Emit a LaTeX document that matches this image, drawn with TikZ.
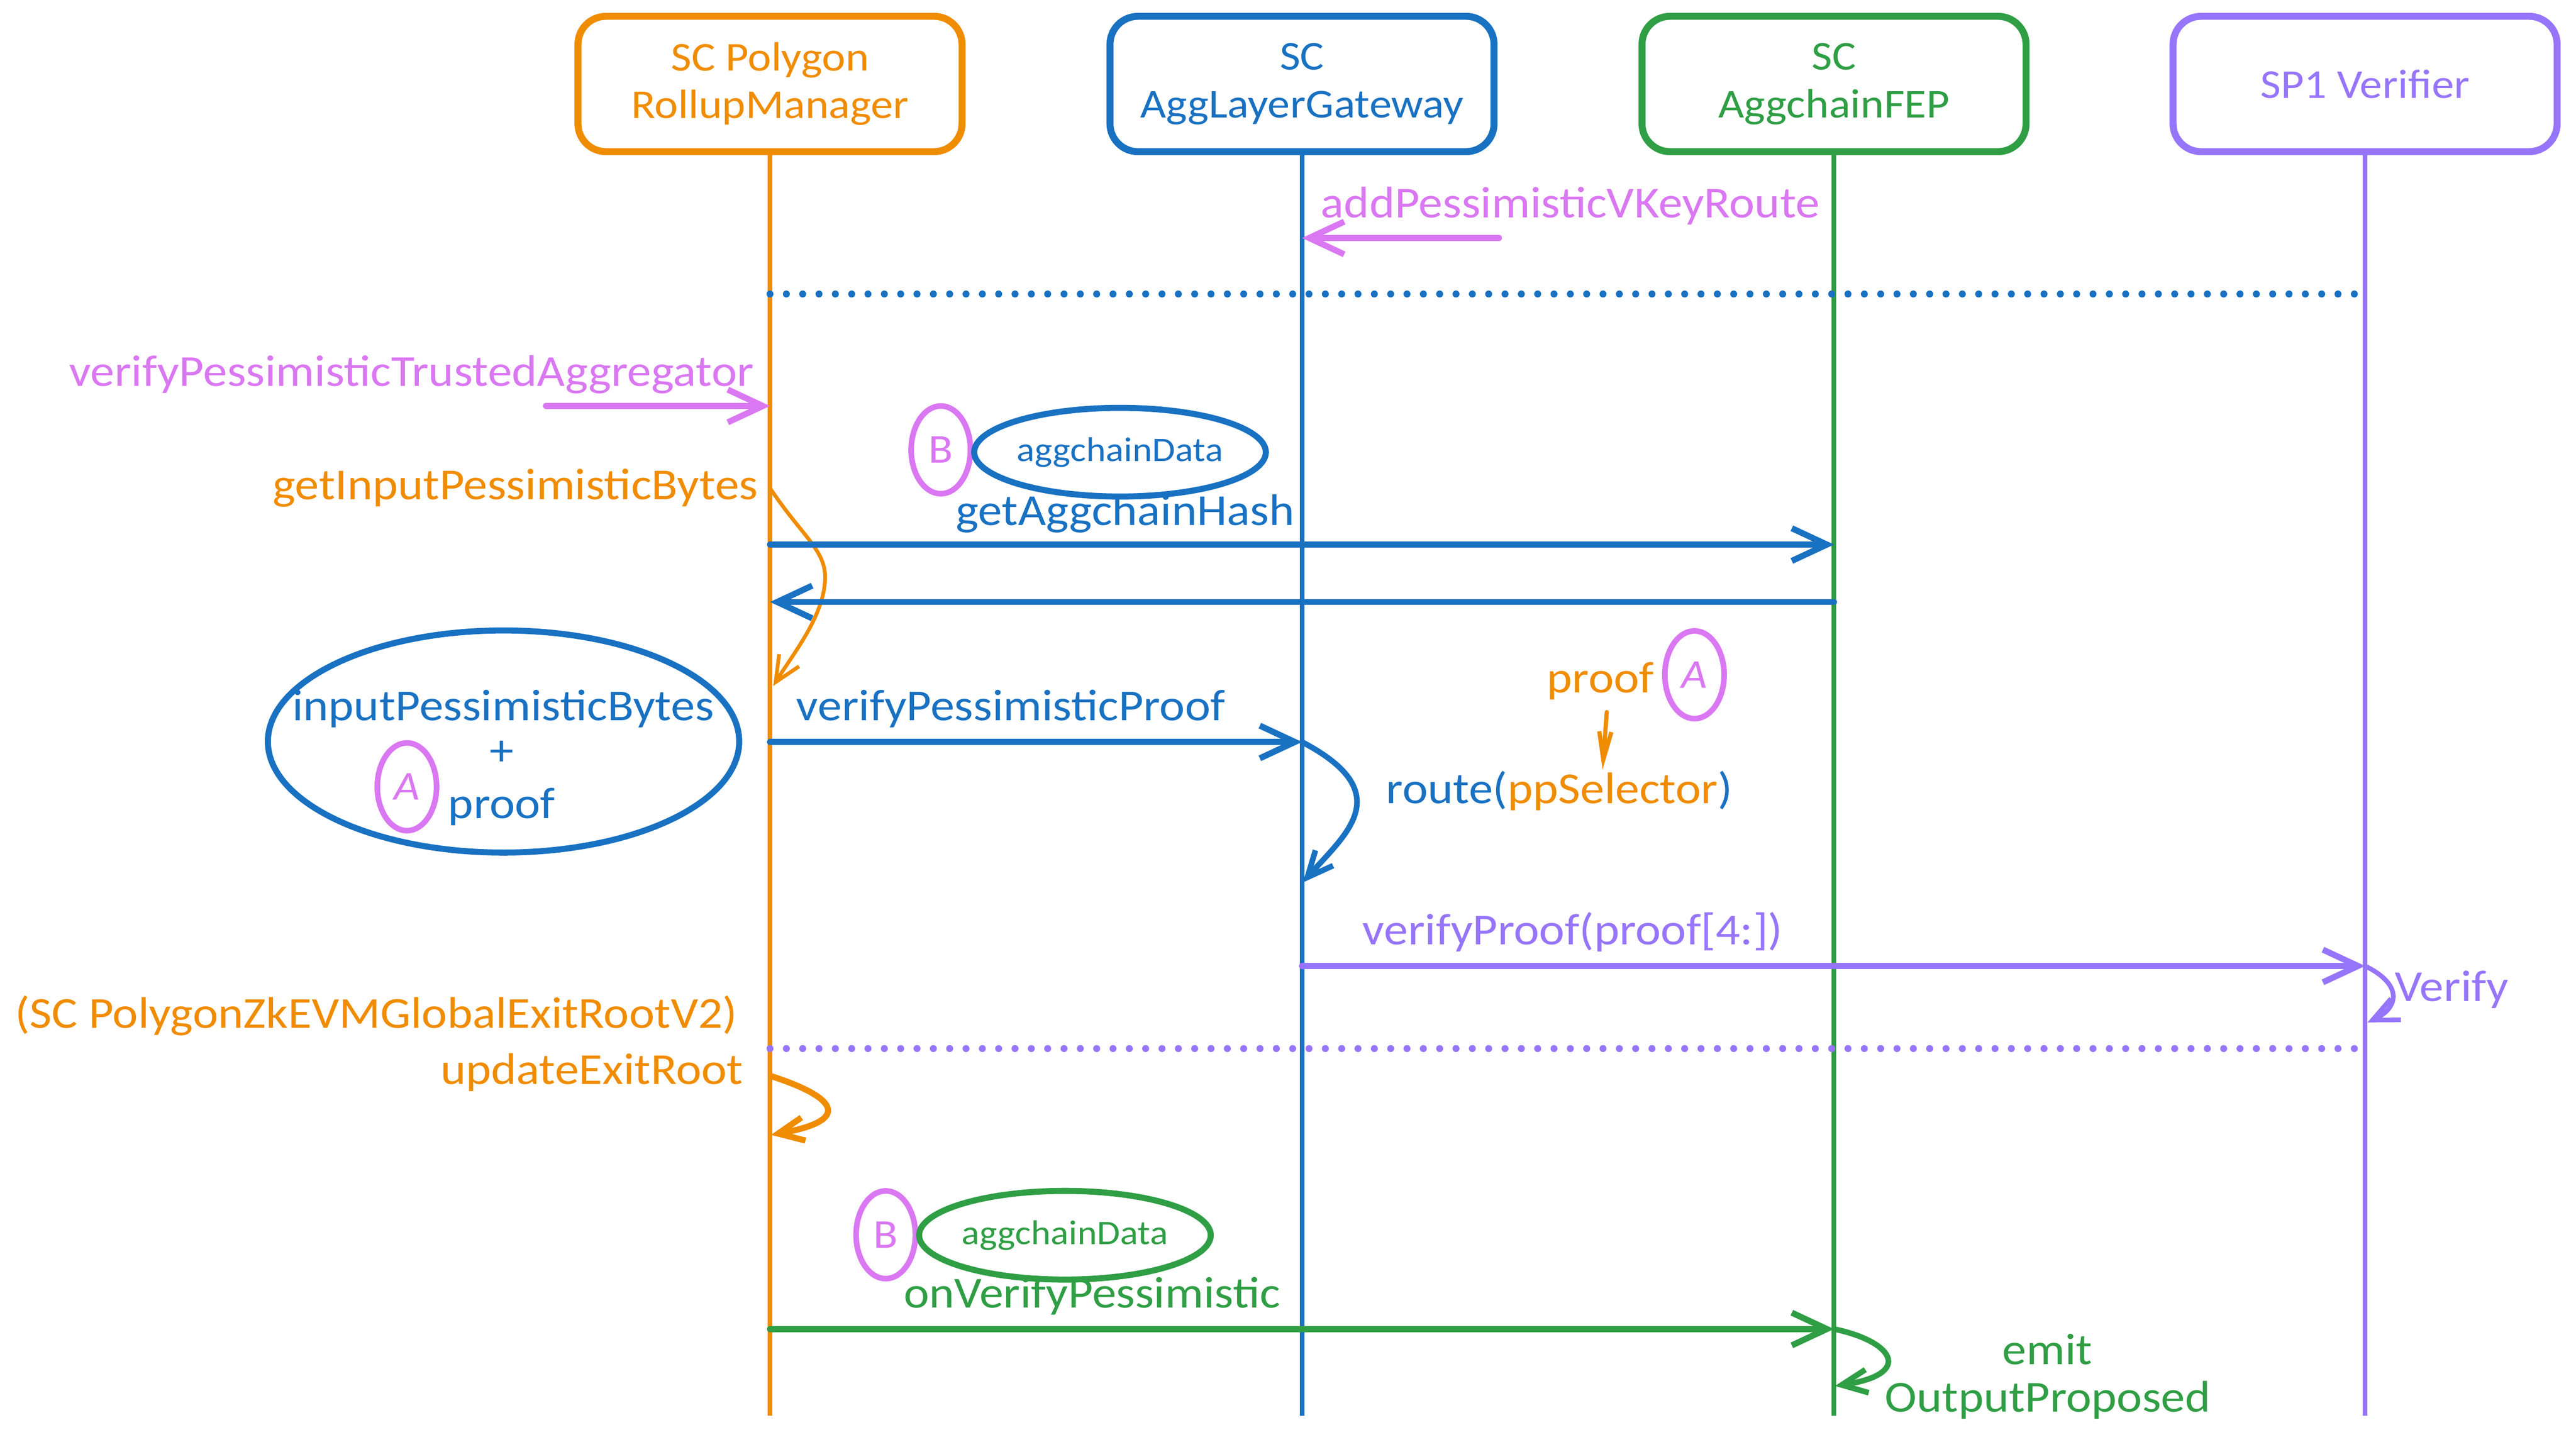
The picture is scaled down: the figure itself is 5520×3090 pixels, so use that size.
\documentclass[tikz,border=0pt]{standalone}
\usepackage{fontspec}
\setmainfont{Carlito}[FakeStretch=1.09]
\usetikzlibrary{arrows.meta,shapes.geometric}
\definecolor{rmorange}{HTML}{F08C00}
\definecolor{gwblue}{HTML}{1971C2}
\definecolor{fepgreen}{HTML}{2F9E44}
\definecolor{spviolet}{HTML}{9775FA}
\definecolor{notepink}{HTML}{DA77F2}
\newcommand{\msgfont}{\fontsize{27}{29}\selectfont}
\newcommand{\boxfont}{\fontsize{25}{29}\selectfont}
\newcommand{\tagfont}{\fontsize{21}{23}\selectfont}

\begin{document}
\begin{tikzpicture}[x=0.1mm, y=-0.1mm,
  box/.style = {draw, rounded corners=6mm, line width=1.5mm, minimum width=82.3mm, minimum height=29mm, align=center, font=\boxfont},
  life/.style = {line width=1mm},
  msg/.style = {line width=1.3mm, line cap=round, -{Straight Barb[length=7.5mm, width=7mm]}},
  self/.style = {line width=1mm, line cap=round, -{Straight Barb[length=5.5mm, width=5mm]}},
  sep/.style = {line width=1.5mm, line cap=round, dash pattern=on 0mm off 3.5mm},
  lbl/.style = {font=\msgfont, inner sep=0},
  tag/.style = {draw=notepink, text=notepink, ellipse, line width=1.2mm, minimum width=12.7mm, minimum height=18.8mm, inner sep=0, font=\fontsize{25}{27}\selectfont},
  bag/.style = {draw, ellipse, line width=1.3mm, minimum width=53.5mm, minimum height=19mm, inner sep=0, font=\tagfont}]

\useasboundingbox (0,0) rectangle (5520,3090);

% participants
\node[box, rmorange] (rm) at (1650,180) {SC Polygon\\RollupManager};
\node[box, gwblue] (gw) at (2790,180) {SC\\AggLayerGateway};
\node[box, fepgreen] (fep) at (3930,180) {SC\\AggchainFEP};
\node[box, spviolet] (sp1) at (5068,180) {SP1 Verifier};

\coordinate (rmEnd) at (1650,3034);
\coordinate (gwEnd) at (2790,3034);
\coordinate (fepEnd) at (3930,3034);
\coordinate (sp1End) at (5068,3034);

\draw[life, rmorange] (rm.south) -- (rmEnd);
\draw[life, gwblue] (gw.south) -- (gwEnd);
\draw[life, fepgreen] (fep.south) -- (fepEnd);
\draw[life, spviolet] (sp1.south) -- (sp1End);

% setup
\coordinate (k0) at (3212,510);
\coordinate (k1) at (2790,510);
\draw[msg, notepink] (k0) -- (k1);
\node[lbl, notepink, anchor=base] (addKey) at (3365,466) {addPessimisticVKeyRoute};

\coordinate (d1a) at (1650,630);
\coordinate (d1b) at (5068,630);
\draw[sep, gwblue] (d1a) -- (d1b);

% verify
\coordinate (t0) at (1170,870);
\coordinate (t1) at (1650,870);
\draw[msg, notepink] (t0) -- (t1);
\node[lbl, notepink, anchor=base east] (vpta) at (1616,828) {verifyPessimisticTrustedAggregator};

\node[tag] (tagB1) at (2016,964) {B};
\node[bag, gwblue] (data1) at (2400,969) {aggchainData};

\node[lbl, rmorange, anchor=base east] (gipb) at (1625,1070) {getInputPessimisticBytes};
\coordinate (g0) at (1652,1049);
\coordinate (g1) at (1657,1470);
\draw[self, rmorange, line width=0.8mm] (g0) .. controls (1720,1150) and (1770,1180) .. (1768,1240) .. controls (1766,1320) and (1700,1400) .. (g1);

\coordinate (h0) at (1650,1167);
\coordinate (h1) at (3930,1167);
\draw[msg, gwblue] (h0) -- (h1);
\node[lbl, gwblue, anchor=base] (hash) at (2411,1126) {getAggchainHash};
\coordinate (h2) at (3930,1290);
\coordinate (h3) at (1650,1290);
\draw[msg, gwblue] (h2) -- (h3);

\node[draw=gwblue, ellipse, line width=1.3mm, minimum width=101mm, minimum height=47.6mm] (inBytes) at (1079,1589) {};
\node[lbl, gwblue, anchor=base] (inLine1) at (1078,1544) {inputPessimisticBytes};
\node[lbl, gwblue, anchor=base] (inPlus) at (1075,1640) {+};
\node[lbl, gwblue, anchor=base] (inLine2) at (1075,1754) {proof};
\node[tag] (tagA1) at (872,1686) {\textit{A}};

\coordinate (p0) at (1650,1590);
\coordinate (p1) at (2790,1590);
\draw[msg, gwblue] (p0) -- (p1);
\node[lbl, gwblue, anchor=base] (vpp) at (2166,1544) {verifyPessimisticProof};

\coordinate (r1) at (2792,1891);
\draw[self, gwblue, line width=1.2mm] (p1) .. controls (3000,1700) and (2880,1790) .. (r1);
\node[lbl, gwblue, anchor=base west] (route) at (2970,1722) {route(\textcolor{rmorange}{ppSelector})};

\node[lbl, rmorange, anchor=base east] (prf) at (3545,1484) {proof};
\node[tag] (tagA2) at (3631,1446) {\textit{A}};
\coordinate (s0) at (3443,1526);
\coordinate (s1) at (3434,1649);
\draw[rmorange, line width=0.9mm, line cap=round, -{Straight Barb[length=6mm, width=2.6mm]}] (s0) -- (s1);

\coordinate (v0) at (2790,2070);
\coordinate (v1) at (5068,2070);
\draw[msg, spviolet] (v0) -- (v1);
\node[lbl, spviolet, anchor=base] (vp) at (3370,2024) {verifyProof(proof[4:])};
\coordinate (v2) at (5073,2191);
\draw[self, spviolet] (v1) .. controls (5150,2110) and (5140,2160) .. (v2);
\node[lbl, spviolet, anchor=base west] (verify) at (5131,2146) {Verify};

% exit root
\node[lbl, rmorange, anchor=base east] (ger) at (1581,2203) {(SC PolygonZkEVMGlobalExitRootV2)};
\coordinate (d2a) at (1650,2247);
\coordinate (d2b) at (5068,2247);
\draw[sep, spviolet] (d2a) -- (d2b);

\node[lbl, rmorange, anchor=base east] (uer) at (1593,2323) {updateExitRoot};
\coordinate (u0) at (1652,2306);
\coordinate (u1) at (1652,2432);
\draw[self, rmorange, line width=1.3mm] (u0) .. controls (1790,2350) and (1830,2400) .. (u1);

% callback
\node[tag] (tagB2) at (1898,2646) {B};
\node[bag, fepgreen] (data2) at (2282,2647) {aggchainData};

\coordinate (o0) at (1650,2848);
\coordinate (o1) at (3930,2848);
\draw[msg, fepgreen] (o0) -- (o1);
\node[lbl, fepgreen, anchor=base] (ovp) at (2340,2803) {onVerifyPessimistic};
\coordinate (o2) at (3932,2970);
\draw[self, fepgreen, line width=1.2mm] (o1) .. controls (4060,2875) and (4100,2945) .. (o2);
\node[lbl, fepgreen, anchor=base] (emit) at (4387,2924) {emit};
\node[lbl, fepgreen, anchor=base] (outp) at (4388,3025) {OutputProposed};

\end{tikzpicture}
\end{document}
